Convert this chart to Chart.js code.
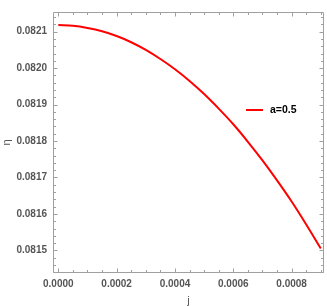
<!DOCTYPE html>
<html>
<head>
<meta charset="utf-8">
<script src="https://cdn.jsdelivr.net/npm/chart.js@4/dist/chart.umd.min.js"></script>
<style>
html,body{margin:0;padding:0;background:#fff;}
#wrap{width:327px;height:306px;}
</style>
</head>
<body>
<div id="wrap"><canvas id="c" width="327" height="306"></canvas></div>
<script>
const seriesLabel = "a=0.5";
const jValues = [0, 0.00005, 0.0001, 0.00015, 0.0002, 0.00025, 0.0003, 0.00035, 0.0004, 0.00045, 0.0005, 0.00055, 0.0006, 0.00065, 0.0007, 0.00075, 0.0008, 0.00085, 0.0009];
const etaValues = [0.082118, 0.082116, 0.082110, 0.082101, 0.082088, 0.082071, 0.082050, 0.082025, 0.081997, 0.081965, 0.081929, 0.081889, 0.081846, 0.081798, 0.081747, 0.081692, 0.081634, 0.081571, 0.081505];
const xTicks = [0, 0.0002, 0.0004, 0.0006, 0.0008];
const yTicks = [0.0815, 0.0816, 0.0817, 0.0818, 0.0819, 0.0820, 0.0821];
const xTitle = "j";
const yTitle = "η";

const AXIS_COLOR = "#a0a0a0";
const LABEL_COLOR = "#555555";

const framePlugin = {
  id: "frame",
  afterDraw(chart) {
    const ctx = chart.ctx;
    const a = chart.chartArea;
    const xs = chart.scales.x, ys = chart.scales.y;
    ctx.save();
    ctx.strokeStyle = AXIS_COLOR;
    ctx.lineWidth = 1;
    ctx.beginPath();
    ctx.rect(Math.round(a.left) + 0.5, Math.round(a.top) + 0.5, Math.round(a.right - a.left) - 1, Math.round(a.bottom - a.top) - 1);
    ctx.stroke();
    // ticks
    const L = Math.round(a.left) + 0.5, R = Math.round(a.right) - 0.5, T = Math.round(a.top) + 0.5, B = Math.round(a.bottom) - 0.5;
    ctx.beginPath();
    const xStep = 0.00005;
    for (let k = -1; k * xStep <= xs.max + 1e-12; k++) {
      const v = k * xStep;
      if (v < xs.min) continue;
      const major = Math.abs(v / 0.0002 - Math.round(v / 0.0002)) < 1e-6;
      const len = major ? 4 : 2.5;
      const px = Math.round(xs.getPixelForValue(v)) + 0.5;
      ctx.moveTo(px, B); ctx.lineTo(px, B - len);
      ctx.moveTo(px, T); ctx.lineTo(px, T + len);
    }
    const yStep = 0.00002;
    for (let k = 0; k < 100; k++) {
      const v = 0.0814 + k * yStep;
      if (v > ys.max) break;
      if (v < ys.min) continue;
      const major = Math.abs(k % 5) === 0;
      const len = major ? 4 : 2.5;
      const py = Math.round(ys.getPixelForValue(v)) + 0.5;
      ctx.moveTo(L, py); ctx.lineTo(L + len, py);
      ctx.moveTo(R, py); ctx.lineTo(R - len, py);
    }
    ctx.stroke();
    // axis titles
    ctx.fillStyle = LABEL_COLOR;
    ctx.font = "11px 'Liberation Sans', Arial, sans-serif";
    ctx.textAlign = "center";
    ctx.textBaseline = "middle";
    ctx.fillText(xTitle, (a.left + a.right) / 2, 301);
    ctx.save();
    ctx.translate(7, (a.top + a.bottom) / 2);
    ctx.rotate(-Math.PI / 2);
    ctx.fillText(yTitle, 0, 0);
    ctx.restore();
    // legend
    const ds = chart.data.datasets[0];
    const ly = ys.getPixelForValue(0.08185);
    ctx.strokeStyle = ds.borderColor;
    ctx.lineWidth = 2;
    ctx.beginPath();
    ctx.moveTo(246, 110); ctx.lineTo(263, 110);
    ctx.stroke();
    ctx.fillStyle = "#000";
    ctx.font = "bold 10.5px 'Liberation Sans', Arial, sans-serif";
    ctx.textAlign = "left";
    ctx.fillText(ds.label, 270, 110.5);
    ctx.restore();
  }
};

new Chart(document.getElementById("c"), {
  type: "line",
  data: {
    datasets: [{
      label: seriesLabel,
      data: jValues.map((j, i) => ({ x: j, y: etaValues[i] })),
      borderColor: "#ff0000",
      borderWidth: 2,
      pointRadius: 0,
      tension: 0.4,
      cubicInterpolationMode: "monotone",
      fill: false
    }]
  },
  options: {
    responsive: false,
    animation: false,
    devicePixelRatio: 1,
    layout: { padding: { top: 0, right: 3, left: 0, bottom: 0 } },
    plugins: { legend: { display: false }, tooltip: { enabled: false } },
    scales: {
      x: {
        type: "linear",
        min: -0.0000182,
        max: 0.000911,
        afterBuildTicks: s => { s.ticks = xTicks.map(v => ({ value: v })); },
        afterFit: s => { s.height = 33; },
        grid: { display: false, drawTicks: false },
        border: { display: false },
        ticks: {
          padding: 5,
          maxRotation: 0,
          autoSkip: false,
          color: LABEL_COLOR,
          font: { family: "'Liberation Sans', Arial, sans-serif", size: 10, weight: "bold" },
          callback: v => Number(v).toFixed(4)
        }
      },
      y: {
        type: "linear",
        min: 0.081438,
        max: 0.082154,
        afterBuildTicks: s => { s.ticks = yTicks.map(v => ({ value: v })); },
        afterFit: s => { s.width = 53; },
        grid: { display: false, drawTicks: false },
        border: { display: false },
        ticks: {
          padding: 6,
          autoSkip: false,
          color: LABEL_COLOR,
          font: { family: "'Liberation Sans', Arial, sans-serif", size: 10, weight: "bold" },
          callback: v => Number(v).toFixed(4)
        }
      }
    }
  },
  plugins: [framePlugin]
});
</script>
</body>
</html>
